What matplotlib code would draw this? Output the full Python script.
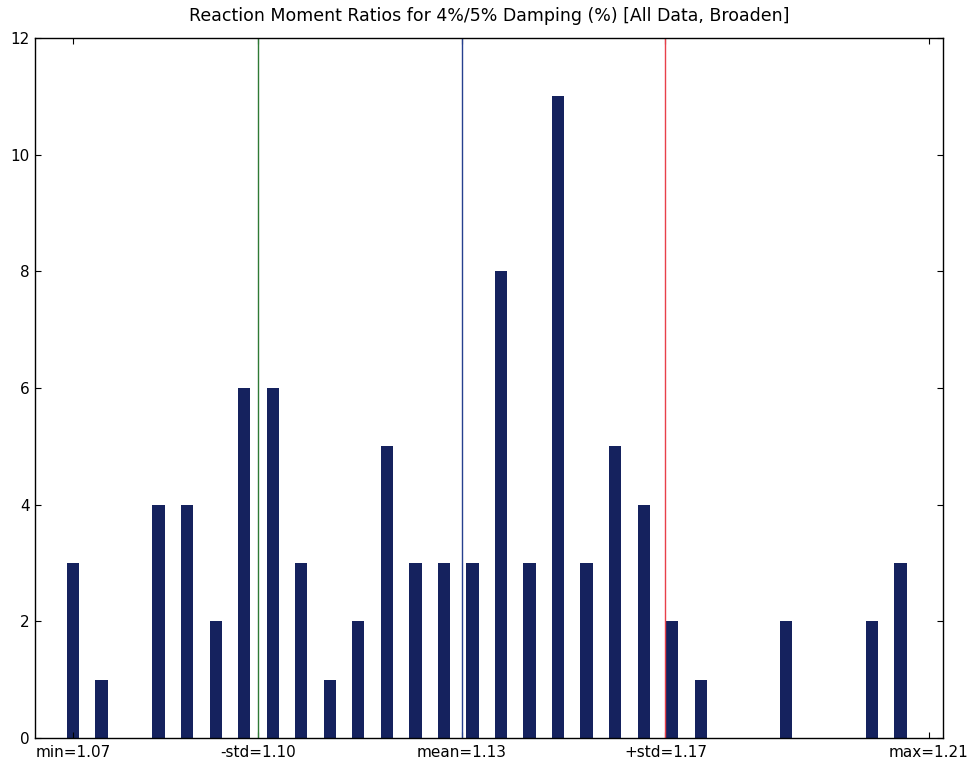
import numpy as np
import matplotlib
matplotlib.use("Agg")
import matplotlib.pyplot as plt

# Data
counts = [3, 1, 0, 4, 4, 2, 6, 6, 3, 1, 2, 5, 3, 3, 3, 8, 3, 11, 3, 5, 4, 2, 1, 0, 0, 2, 0, 0, 2, 3]
x_min = 1.07
x_max = 1.21
x_mean = 1.1336
x_std = 0.0333
title = "Reaction Moment Ratios for 4%/5% Damping (%) [All Data, Broaden]"
tick_names = ["min", "-std", "mean", "+std", "max"]

n_bins = len(counts)
edges = np.linspace(x_min, x_max, n_bins + 1)
bin_w = edges[1] - edges[0]

fig = plt.figure(figsize=(9.72, 7.6), dpi=100)
ax = fig.add_axes([35/972, 1 - 738/760, (943-35)/972, (738-38)/760])

ax.bar(edges[:-1], counts, width=0.43 * bin_w, align="center",
       color="#15225e", edgecolor="#15225e", linewidth=0)

lo = x_mean - x_std
hi = x_mean + x_std
ax.axvline(lo, color="#2f7a35", lw=1.0)
ax.axvline(x_mean, color="#26408f", lw=1.0)
ax.axvline(hi, color="#e8404a", lw=1.0)

tick_vals = [x_min, lo, x_mean, hi, x_max]
ax.set_xticks(tick_vals)
ax.set_xticklabels([f"{n}={v:.2f}" for n, v in zip(tick_names, tick_vals)], fontsize=11)

ax.set_xlim(x_min - 38/856 * (x_max - x_min), x_max + 14/856 * (x_max - x_min))
ax.set_ylim(0, 12)
ax.set_yticks(range(0, 13, 2))
ax.tick_params(axis="y", labelsize=11)
ax.tick_params(direction="in", top=True, right=True, length=4, width=0.8, pad=4)
ax.tick_params(axis="x", pad=5)
for s in ax.spines.values():
    s.set_linewidth(1.0)

ax.set_title(title, fontsize=12.5, pad=12)

fig.savefig("out.png", dpi=100)
